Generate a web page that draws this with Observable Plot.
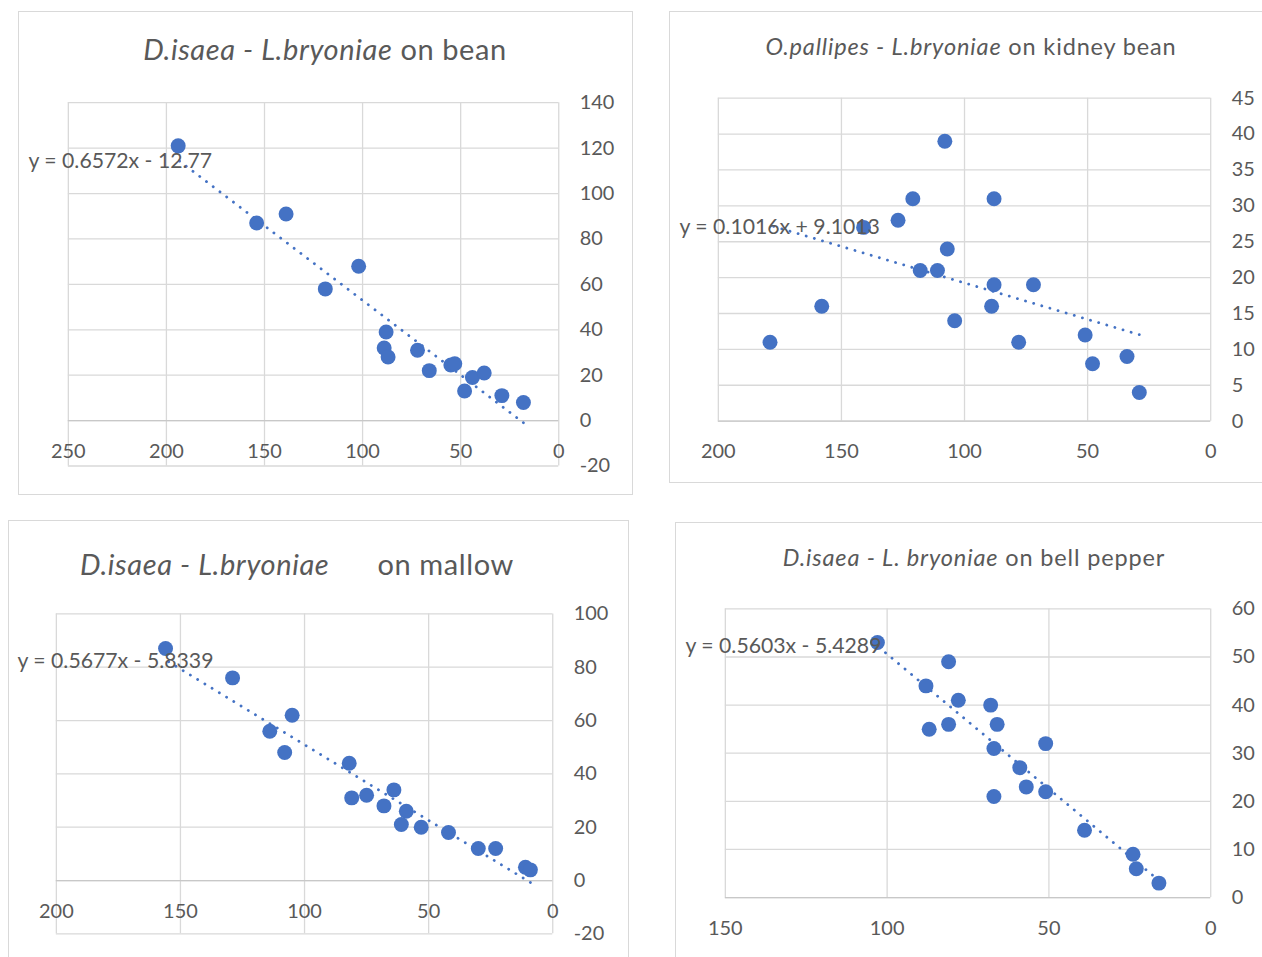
<!DOCTYPE html>
<html>
<head>
<meta charset="utf-8">
<script src="https://cdn.jsdelivr.net/npm/d3@7"></script>
<script src="https://cdn.jsdelivr.net/npm/@observablehq/plot@0.6"></script>
<style>
  html, body { margin: 0; padding: 0; background: #fff; overflow: hidden; width: 1262px; height: 957px; }
  .box { position: absolute; border: 1.3px solid #d9d9d9; box-sizing: border-box; }
  .box svg { position: absolute; left: 0; top: 0; overflow: visible; }
  .title { position: absolute; width: 700px; text-align: center; color: #595959; font-family: Lato, "Open Sans", sans-serif; line-height: 1; white-space: pre; }
</style>
</head>
<body>
<script>
// ---- Data ----
// Panel 1: D.isaea - L.bryoniae on bean
const beanX = [194, 154, 139, 102, 119, 88, 89, 87, 72, 66, 55, 53, 44, 38, 48, 29, 18];
const beanY = [121, 87, 91, 68, 58, 39, 32, 28, 31, 22, 24.5, 25, 19, 21, 13, 11, 8];
const beanFit = [0.6572, -12.77];
const beanEq = "y = 0.6572x - 12.77";
const beanXTicks = [250, 200, 150, 100, 50, 0];
const beanYTicks = [-20, 0, 20, 40, 60, 80, 100, 120, 140];

// Panel 2: O.pallipes - L.bryoniae on kidney bean
const kidneyX = [179, 158, 141, 127, 121, 108, 107, 118, 111, 104, 88, 88, 89, 72, 78, 51, 48, 34, 29];
const kidneyY = [11, 16, 27, 28, 31, 39, 24, 21, 21, 14, 31, 19, 16, 19, 11, 12, 8, 9, 4];
const kidneyFit = [0.1016, 9.1013];
const kidneyEq = "y = 0.1016x + 9.1013";
const kidneyXTicks = [200, 150, 100, 50, 0];
const kidneyYTicks = [0, 5, 10, 15, 20, 25, 30, 35, 40, 45];

// Panel 3: D.isaea - L.bryoniae on mallow
const mallowX = [156, 129, 105, 114, 108, 82, 81, 75, 68, 64, 59, 61, 53, 42, 30, 23, 11, 9];
const mallowY = [87, 76, 62, 56, 48, 44, 31, 32, 28, 34, 26, 21, 20, 18, 12, 12, 5, 4];
const mallowFit = [0.5677, -5.8339];
const mallowEq = "y = 0.5677x - 5.8339";
const mallowXTicks = [200, 150, 100, 50, 0];
const mallowYTicks = [-20, 0, 20, 40, 60, 80, 100];

// Panel 4: D.isaea - L. bryoniae on bell pepper
const pepperX = [103, 81, 88, 78, 68, 87, 81, 66, 67, 51, 59, 57, 51, 67, 39, 24, 23, 16];
const pepperY = [53, 49, 44, 41, 40, 35, 36, 36, 31, 32, 27, 23, 22, 21, 14, 9, 6, 3];
const pepperFit = [0.5603, -5.4289];
const pepperEq = "y = 0.5603x - 5.4289";
const pepperXTicks = [150, 100, 50, 0];
const pepperYTicks = [0, 10, 20, 30, 40, 50, 60];

const BLUE = "#4472c4";
const GRID = "#d9d9d9";
const TEXT = "#595959";

function panel(cfg) {
  const box = document.createElement("div");
  box.className = "box";
  Object.assign(box.style, {left: cfg.left + "px", top: cfg.top + "px", width: cfg.width + "px", height: cfg.height + "px"});
  document.body.appendChild(box);

  const pts = cfg.xs.map((x, i) => ({x, y: cfg.ys[i]}));
  const [m, b] = cfg.fit;
  const xMin = d3.min(cfg.xs), xMax = d3.max(cfg.xs);
  const trend = [{x: xMin, y: m * xMin + b}, {x: xMax, y: m * xMax + b}];

  const chart = Plot.plot({
    width: cfg.width,
    height: cfg.height,
    marginLeft: cfg.ml, marginRight: cfg.mr, marginTop: cfg.mt, marginBottom: cfg.mb,
    style: {fontFamily: "Lato, 'Open Sans', sans-serif", fontSize: "20px", color: TEXT, background: "transparent", overflow: "visible"},
    x: {domain: [d3.max(cfg.xTicks), 0], axis: null},
    y: {domain: d3.extent(cfg.yTicks)},
    marks: [
      Plot.gridX(cfg.xTicks, {stroke: GRID, strokeOpacity: 1, strokeWidth: 1.3}),
      Plot.gridY(cfg.yTicks, {stroke: GRID, strokeOpacity: 1, strokeWidth: 1.3}),
      Plot.ruleY([0], {stroke: "#c8c8c8", strokeWidth: 1.3}),
      Plot.axisY(cfg.yTicks, {anchor: "right", tickSize: 0, tickPadding: 21, fill: TEXT, textAnchor: "start", label: null, tickFormat: d => String(d)}),
      Plot.text(cfg.xTicks, {x: d => d, y: () => 0, text: d => String(d), dy: 31, fill: TEXT, textAnchor: "middle", lineAnchor: "middle"}),
      Plot.line(trend, {x: "x", y: "y", stroke: BLUE, strokeWidth: 2.8, strokeDasharray: "0.1 8.4", strokeLinecap: "round"}),
      Plot.dot(pts, {x: "x", y: "y", r: 7.5, fill: BLUE}),
      Plot.text([cfg.eq], {frameAnchor: "top-left", text: d => d, dx: cfg.eqDx, dy: cfg.eqDy, textAnchor: "start", lineAnchor: "middle", fill: TEXT, fontSize: 21.3})
    ]
  });
  box.appendChild(chart);

  const t = document.createElement("div");
  t.className = "title";
  t.innerHTML = cfg.title;
  Object.assign(t.style, {left: (cfg.titleX - 350) + "px", top: (cfg.titleY - cfg.titleSize * 0.55) + "px", fontSize: cfg.titleSize + "px", letterSpacing: cfg.titleLs + "px"});
  document.body.appendChild(t);
}

panel({left: 18, top: 11, width: 615, height: 484, ml: 49, mr: 74, mt: 90.5, mb: 29,
  xs: beanX, ys: beanY, fit: beanFit, eq: beanEq, xTicks: beanXTicks, yTicks: beanYTicks,
  eqDx: -40, eqDy: 58.5,
  title: "<i>D.isaea - L.bryoniae</i> on bean", titleX: 325, titleY: 50, titleSize: 29, titleLs: 0.6});

panel({left: 669, top: 11, width: 606, height: 472, ml: 48, mr: 64, mt: 86, mb: 62,
  xs: kidneyX, ys: kidneyY, fit: kidneyFit, eq: kidneyEq, xTicks: kidneyXTicks, yTicks: kidneyYTicks,
  eqDx: -39, eqDy: 129,
  title: "<i>O.pallipes - L.bryoniae</i> on kidney bean", titleX: 971, titleY: 48, titleSize: 23.5, titleLs: 0.85});

panel({left: 8, top: 520, width: 621, height: 450, ml: 47, mr: 76, mt: 92.7, mb: 36.3,
  xs: mallowX, ys: mallowY, fit: mallowFit, eq: mallowEq, xTicks: mallowXTicks, yTicks: mallowYTicks,
  eqDx: -39, eqDy: 47.3,
  title: "<i>D.isaea - L.bryoniae</i>      on mallow", titleX: 297, titleY: 565, titleSize: 29, titleLs: 0.6});

panel({left: 675, top: 522, width: 600, height: 448, ml: 49, mr: 64, mt: 85.7, mb: 72.7,
  xs: pepperX, ys: pepperY, fit: pepperFit, eq: pepperEq, xTicks: pepperXTicks, yTicks: pepperYTicks,
  eqDx: -40, eqDy: 37.3,
  title: "<i>D.isaea - L. bryoniae</i> on bell pepper", titleX: 974, titleY: 559, titleSize: 23.5, titleLs: 0.85});
</script>
</body>
</html>
